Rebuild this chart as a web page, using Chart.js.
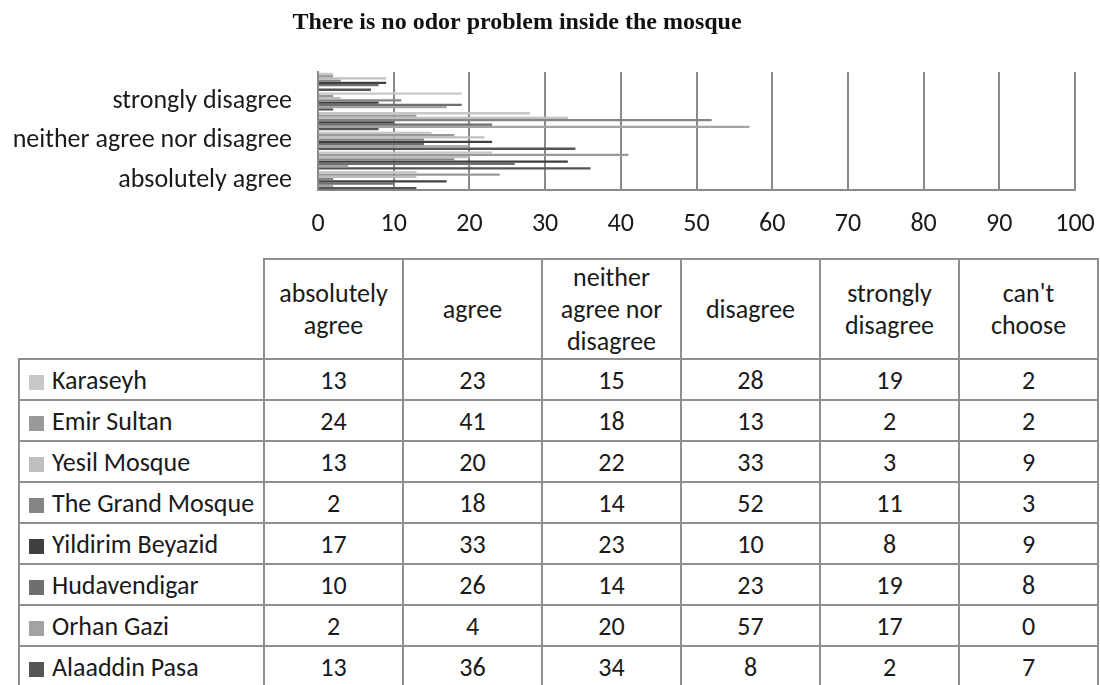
<!DOCTYPE html>
<html>
<head>
<meta charset="utf-8">
<title>There is no odor problem inside the mosque</title>
<script src="https://cdn.jsdelivr.net/npm/chart.js@4/dist/chart.umd.min.js"></script>
<style>
  html, body { margin: 0; padding: 0; background: #ffffff; }
  #wrap { position: relative; width: 1100px; height: 685px; overflow: hidden; }
  #chartBox { position: absolute; left: 0; top: 0; width: 1100px; height: 245px; }
  #dataTable {
    position: absolute; left: 18px; top: 258px;
    border-collapse: collapse; table-layout: fixed;
    font-family: Carlito, Lato, "Open Sans", sans-serif; font-size: 26px; color: #1a1a1a;
  }
  #dataTable td, #dataTable th {
    border: 2px solid #8f8f8f; text-align: center; font-weight: normal;
    padding: 0 10px; line-height: 32px;
  }
  #dataTable thead th { height: 98px; }
  #dataTable tbody td { height: 39px; padding: 0; }
  #dataTable th.corner { border-top: hidden; border-left: hidden; }
  #dataTable td.series { text-align: left; padding-left: 9px; white-space: nowrap; }
  .swatch { display: inline-block; width: 15px; height: 15px; margin-right: 8px; vertical-align: -1px; }
</style>
</head>
<body>
<div id="wrap">
  <div id="chartBox"><canvas id="chart"></canvas></div>
  <table id="dataTable"></table>
</div>
<script>
// Response scale (bottom to top on the chart, left to right in the table)
const categories = ['absolutely agree', 'agree', 'neither agree nor disagree', 'disagree', 'strongly disagree', "can't choose"];

// Percent of respondents per mosque
const karaseyh        = [13, 23, 15, 28, 19, 2];
const emirSultan      = [24, 41, 18, 13, 2, 2];
const yesilMosque     = [13, 20, 22, 33, 3, 9];
const grandMosque     = [2, 18, 14, 52, 11, 3];
const yildirimBeyazid = [17, 33, 23, 10, 8, 9];
const hudavendigar    = [10, 26, 14, 23, 19, 8];
const orhanGazi       = [2, 4, 20, 57, 17, 0];
const alaaddinPasa    = [13, 36, 34, 8, 2, 7];

const mosqueNames  = ['Karaseyh', 'Emir Sultan', 'Yesil Mosque', 'The Grand Mosque', 'Yildirim Beyazid', 'Hudavendigar', 'Orhan Gazi', 'Alaaddin Pasa'];
const mosqueValues = [karaseyh, emirSultan, yesilMosque, grandMosque, yildirimBeyazid, hudavendigar, orhanGazi, alaaddinPasa];
const mosqueColors = ['#c8c8c8', '#999999', '#bfbfbf', '#858585', '#404040', '#6f6f6f', '#a3a3a3', '#555555'];

const xTicks = [0, 10, 20, 30, 40, 50, 60, 70, 80, 90, 100];
const titleText = 'There is no odor problem inside the mosque';

const bodyFont = 'Carlito, Lato, "Open Sans", sans-serif';
const gridGray = '#8a8a8a';

// Bold serif heading drawn above the plot
const headingPlugin = {
  id: 'heading',
  afterDraw(chart) {
    const ctx = chart.ctx;
    ctx.save();
    ctx.font = 'bold 24px "Liberation Serif", "Times New Roman", serif';
    ctx.fillStyle = '#111111';
    ctx.textAlign = 'center';
    ctx.textBaseline = 'middle';
    ctx.fillText(titleText, 517, 23);
    ctx.restore();
  }
};

const datasets = mosqueNames.map((name, i) => ({
  label: name,
  data: mosqueValues[i],
  backgroundColor: mosqueColors[i],
  borderWidth: 0,
  categoryPercentage: 0.92,
  barPercentage: 1.0
}));

new Chart(document.getElementById('chart'), {
  type: 'bar',
  data: { labels: categories, datasets },
  options: {
    indexAxis: 'y',
    responsive: true,
    maintainAspectRatio: false,
    animation: false,
    layout: { padding: { left: 0, right: 25, top: 72, bottom: 0 } },
    plugins: {
      legend: { display: false },
      title: { display: false },
      tooltip: { enabled: false }
    },
    scales: {
      x: {
        min: 0, max: 100,
        afterBuildTicks(scale) { scale.ticks = xTicks.map(v => ({ value: v })); },
        afterFit(scale) {
          scale.height = 55;
          scale.paddingLeft = 0;
          scale.paddingRight = 0;
        },
        grid: { color: gridGray, lineWidth: 2, drawTicks: false },
        border: { display: true, color: gridGray, width: 2 },
        ticks: { padding: 19, color: '#1a1a1a', font: { family: bodyFont, size: 26 } }
      },
      y: {
        reverse: true,
        afterFit(scale) { scale.width = 318; },
        grid: { display: false, drawTicks: false },
        border: { display: true, color: gridGray, width: 2 },
        ticks: {
          autoSkip: false,
          padding: 26,
          color: '#1a1a1a',
          font: { family: bodyFont, size: 26 },
          callback: (v, i) => (i % 2 === 0 ? categories[i] : '')
        }
      }
    }
  },
  plugins: [headingPlugin]
});

// Data table beneath the chart, built from the same arrays
const table = document.getElementById('dataTable');
const colgroup = document.createElement('colgroup');
[245, 139, 139, 139, 139, 139, 139].forEach(w => {
  const c = document.createElement('col');
  c.style.width = w + 'px';
  colgroup.appendChild(c);
});
table.appendChild(colgroup);

const thead = document.createElement('thead');
const hr = document.createElement('tr');
const corner = document.createElement('th');
corner.className = 'corner';
hr.appendChild(corner);
categories.forEach(c => {
  const th = document.createElement('th');
  th.textContent = c;
  hr.appendChild(th);
});
thead.appendChild(hr);
table.appendChild(thead);

const tbody = document.createElement('tbody');
mosqueNames.forEach((name, i) => {
  const tr = document.createElement('tr');
  const nameCell = document.createElement('td');
  nameCell.className = 'series';
  const sw = document.createElement('span');
  sw.className = 'swatch';
  sw.style.background = mosqueColors[i];
  nameCell.appendChild(sw);
  nameCell.appendChild(document.createTextNode(name));
  tr.appendChild(nameCell);
  mosqueValues[i].forEach(v => {
    const td = document.createElement('td');
    td.textContent = v;
    tr.appendChild(td);
  });
  tbody.appendChild(tr);
});
table.appendChild(tbody);
</script>
</body>
</html>
